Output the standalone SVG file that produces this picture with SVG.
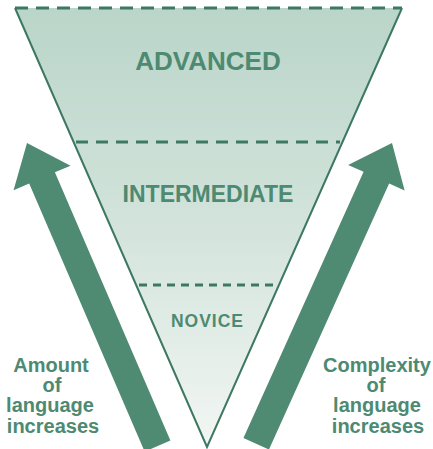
<svg xmlns="http://www.w3.org/2000/svg" width="433" height="449" viewBox="0 0 433 449">
  <defs>
    <linearGradient id="fillGrad" x1="0" y1="0" x2="0" y2="1">
      <stop offset="0" stop-color="#bad5c9"/>
      <stop offset="0.45" stop-color="#d0e2d9"/>
      <stop offset="1" stop-color="#f2f6f4"/>
    </linearGradient>
  </defs>
  <style>
    .edge { fill: none; stroke: #3d7862; stroke-width: 2; }
    .dash { stroke: #3d7862; stroke-width: 3; fill: none; }
    .arrow { fill: #4f8a73; }
    .level { font-family: "Liberation Sans", Arial, sans-serif; font-weight: bold; fill: #4d8a71; text-anchor: middle; }
    .label { font-family: "Liberation Sans", Arial, sans-serif; font-weight: bold; font-size: 20px; fill: #4d8a71; text-anchor: middle; }
  </style>
  <rect width="433" height="449" fill="#ffffff"/>

  <g id="funnel">
    <polygon points="15,8 402,8 207,447" fill="url(#fillGrad)"/>
    <polyline class="edge" points="15,8 207,447 402,8"/>
    <line class="dash" x1="15" y1="8" x2="402" y2="8" stroke-dasharray="13 8"/>
  </g>

  <g id="advanced">
    <text class="level" x="208" y="70" font-size="26">ADVANCED</text>
  </g>

  <g id="intermediate">
    <line class="dash" x1="76" y1="142" x2="340" y2="142" stroke-dasharray="12 8"/>
    <text class="level" x="208" y="201.5" font-size="23">INTERMEDIATE</text>
  </g>

  <g id="novice">
    <line class="dash" x1="139" y1="285" x2="274" y2="285" stroke-dasharray="8 6"/>
    <text class="level" x="207.5" y="327" font-size="17.5" letter-spacing="1">NOVICE</text>
  </g>

  <g id="connectors">
    <polygon id="arrow-left" class="arrow" transform="translate(27,143) rotate(-23.3)" points="0,0 31,38 14,38 14,330 -14,330 -14,38 -31,38"/>
    <polygon id="arrow-right" class="arrow" transform="translate(392,143) rotate(24.3)" points="0,0 31,38 14,38 14,330 -14,330 -14,38 -31,38"/>
  </g>

  <g id="label-left">
    <text class="label" x="51" y="372">Amount</text>
    <text class="label" x="52" y="392">of</text>
    <text class="label" x="50" y="412">language</text>
    <text class="label" x="53" y="433">increases</text>
  </g>

  <g id="label-right">
    <text class="label" x="377" y="372">Complexity</text>
    <text class="label" x="376" y="392">of</text>
    <text class="label" x="377" y="412">language</text>
    <text class="label" x="378" y="433">increases</text>
  </g>
</svg>
